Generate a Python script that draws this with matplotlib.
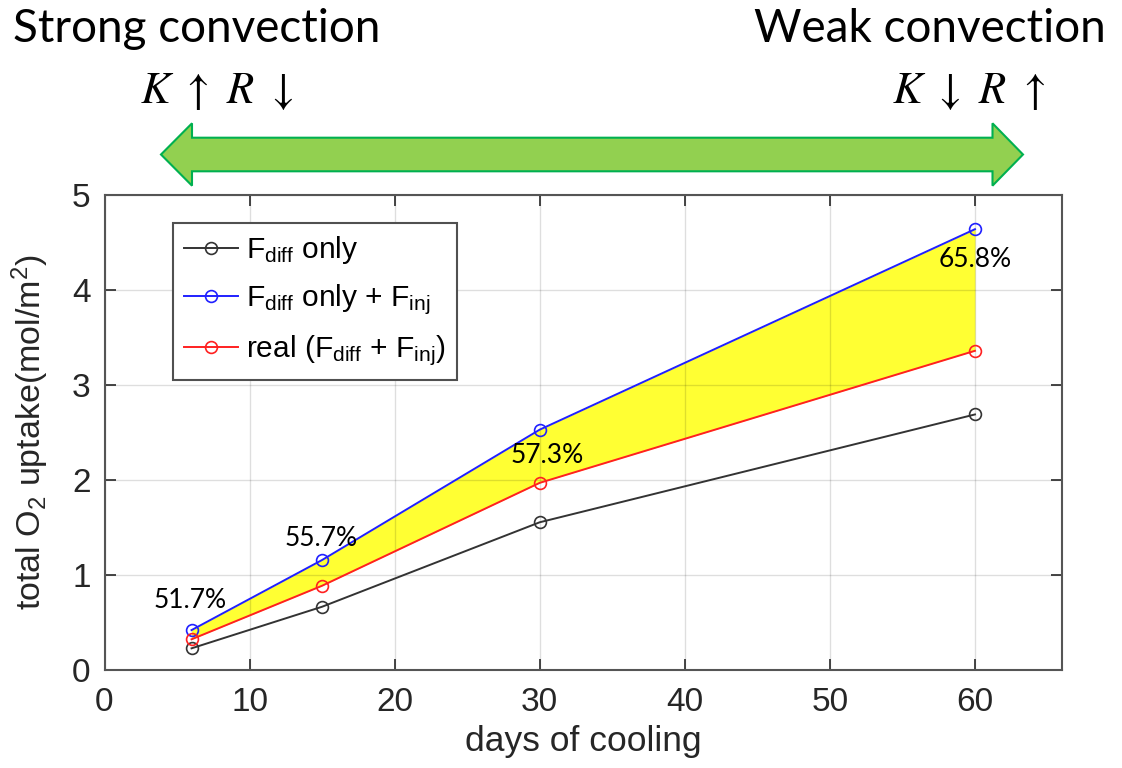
import matplotlib
matplotlib.use('Agg')
import matplotlib.pyplot as plt
from matplotlib.patches import Polygon

# O2 uptake vs. cooling duration
days = [6, 15, 30, 60]
f_diff = [0.228, 0.666, 1.555, 2.69]
f_diff_inj = [0.42, 1.158, 2.53, 4.64]
real = [0.323, 0.887, 1.97, 3.36]

pct_labels = ['51.7%', '55.7%', '57.3%', '65.8%']
pct_x = [5.93, 14.95, 30.54, 60.0]
pct_y = [0.73, 1.38, 2.255, 4.32]

legend_labels = [r'F$_{\rm diff}$ only',
                 r'F$_{\rm diff}$ only + F$_{\rm inj}$',
                 r'real (F$_{\rm diff}$ + F$_{\rm inj}$)']

plt.rcParams['font.family'] = ['Liberation Sans', 'DejaVu Sans']
plt.rcParams['mathtext.fontset'] = 'custom'
plt.rcParams['mathtext.rm'] = 'Liberation Sans'
plt.rcParams['mathtext.it'] = 'Liberation Sans:italic'
plt.rcParams['mathtext.bf'] = 'Liberation Sans:bold'

W, H = 1122, 768
fig = plt.figure(figsize=(W / 100, H / 100), dpi=100)
ax = fig.add_axes([104.5 / W, 1 - 670 / H, (1062 - 104.5) / W, (670 - 195) / H])

ax.fill_between(days, real, f_diff_inj, color='#ffff33', lw=0, zorder=1)
ax.plot(days, f_diff, '-o', color='#333333', lw=1.4, ms=8.5, mfc='none',
        mew=1.2, label=legend_labels[0], zorder=3)
ax.plot(days, f_diff_inj, '-o', color='#2020ff', lw=1.4, ms=8.5, mfc='none',
        mew=1.2, label=legend_labels[1], zorder=3)
ax.plot(days, real, '-o', color='#ff2020', lw=1.4, ms=8.5, mfc='none',
        mew=1.2, label=legend_labels[2], zorder=3)

for s, x, y in zip(pct_labels, pct_x, pct_y):
    ax.text(x, y, s, ha='center', va='center', fontsize=19,
            family=['Lato', 'DejaVu Sans'], color='black', zorder=4)

ax.set_xlim(0, 66)
ax.set_ylim(0, 5)
ax.set_xticks(range(0, 61, 10))
ax.set_yticks(range(0, 6))
ax.grid(True, color='k', alpha=0.13, lw=1)
ax.set_axisbelow('line')
ax.tick_params(direction='in', length=8, width=1.2, top=True, right=True,
               labelsize=24, colors='#262626', pad=12)
ax.tick_params(axis='y', pad=10)
for sp in ax.spines.values():
    sp.set_color('#555555')
    sp.set_linewidth(1.5)

ax.set_xlabel('days of cooling', fontsize=25.5, color='#262626', labelpad=5)
ax.set_ylabel(r'total O$_2$ uptake(mol/m$^2$)', fontsize=24.5, color='#262626')
ax.yaxis.set_label_coords(-0.056, 0.5)

leg = ax.legend(loc='upper left', bbox_to_anchor=(0.0715, 0.941),
                borderaxespad=0, fontsize=21.5, handlelength=1.8,
                handletextpad=0.25, borderpad=0.38, labelspacing=0.55,
                fancybox=False, edgecolor='#505050', framealpha=1)
leg.get_frame().set_linewidth(1.5)

# double-headed arrow above the axes (pixel geometry)
tip_l, tip_r, base_l, base_r = 161, 1023, 192, 992.5
yc, shaft, head = 154.5, 16.8, 31.2
pts = [(tip_l, yc), (base_l, yc - head), (base_l, yc - shaft),
       (base_r, yc - shaft), (base_r, yc - head), (tip_r, yc),
       (base_r, yc + head), (base_r, yc + shaft), (base_l, yc + shaft),
       (base_l, yc + head)]
arrow = Polygon([(x / W, 1 - y / H) for x, y in pts], closed=True,
                transform=fig.transFigure, fc='#92d050', ec='#00b050', lw=1.5)
fig.add_artist(arrow)

fig.text(13 / W, 1 - 42 / H, 'Strong convection', ha='left', va='baseline',
         fontsize=33, family=['Lato', 'DejaVu Sans'])
fig.text(1106 / W, 1 - 42 / H, 'Weak convection', ha='right', va='baseline',
         fontsize=33, family=['Lato', 'DejaVu Sans'])
fig.text(139.5 / W, 1 - 103 / H, r'$K\ \uparrow\ R\ \downarrow$', ha='left',
         va='baseline', fontsize=32, math_fontfamily='stix')
fig.text(1045 / W, 1 - 103 / H, r'$K\ \downarrow\ R\ \uparrow$', ha='right',
         va='baseline', fontsize=32, math_fontfamily='stix')

fig.savefig('out.png', dpi=100)
